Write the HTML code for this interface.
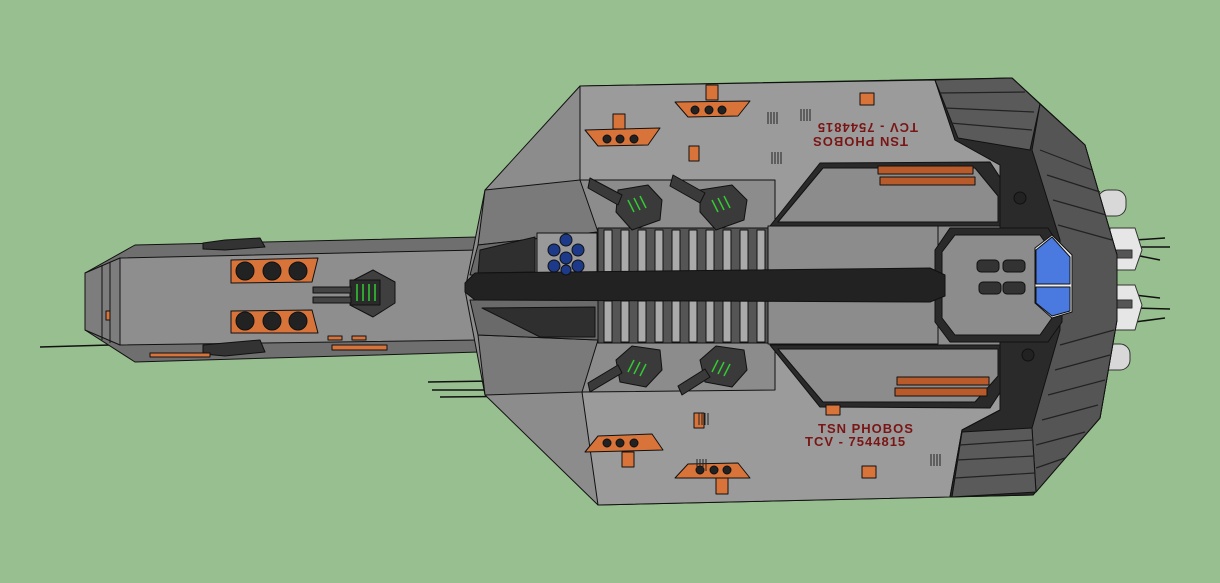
<!DOCTYPE html>
<html><head><style>
html,body{margin:0;padding:0;background:#98bf8f;}
svg{display:block;}
text{font-family:"Liberation Sans",sans-serif;}
</style></head><body>
<svg width="1220" height="583" viewBox="0 0 1220 583" xmlns="http://www.w3.org/2000/svg" stroke-linejoin="round">
<rect width="1220" height="583" fill="#98bf8f"/>
<g stroke="#111" stroke-width="1.5">
<line x1="40" y1="347" x2="110" y2="345"/>
<line x1="428" y1="382" x2="560" y2="380"/>
<line x1="432" y1="390" x2="555" y2="390"/>
<line x1="440" y1="397" x2="555" y2="396"/>
<line x1="1135" y1="240" x2="1165" y2="238"/>
<line x1="1135" y1="247" x2="1170" y2="247"/>
<line x1="1135" y1="255" x2="1160" y2="260"/>
<line x1="1135" y1="295" x2="1160" y2="298"/>
<line x1="1135" y1="308" x2="1170" y2="309"/>
<line x1="1135" y1="322" x2="1165" y2="318"/>
</g>
<g stroke="#333" stroke-width="1">
<rect x="1098" y="190" width="28" height="26" rx="10" fill="#d8d8d8"/>
<rect x="1098" y="344" width="32" height="26" rx="10" fill="#d8d8d8"/>
<path d="M1110 228 L1135 228 L1142 250 L1135 270 L1110 270 Z" fill="#e6e6e6"/>
<path d="M1110 285 L1135 285 L1142 305 L1135 330 L1110 330 Z" fill="#e6e6e6"/>
<rect x="1112" y="250" width="20" height="8" fill="#555"/>
<rect x="1112" y="300" width="20" height="8" fill="#555"/>
</g>
<g stroke="#111" stroke-width="1">
<path d="M135 245 L478 237 L480 352 L135 362 L85 330 L85 273 Z" fill="#6f6f6f"/>
<path d="M120 258 L478 250 L478 340 L120 345 Z" fill="#8e8e8e"/>
<path d="M85 273 L120 258 L120 345 L85 330 Z" fill="#7d7d7d"/>
<line x1="102" y1="265" x2="102" y2="340"/>
<line x1="110" y1="262" x2="110" y2="343"/>
<rect x="106" y="311" width="4" height="9" fill="#d8743a"/>
<path d="M231 260 L318 258 L312 282 L231 283 Z" fill="#d8743a"/>
<path d="M231 311 L312 310 L318 333 L231 333 Z" fill="#d8743a"/>
<g fill="#222">
<circle cx="245" cy="271" r="9"/><circle cx="272" cy="271" r="9"/><circle cx="298" cy="271" r="9"/>
<circle cx="245" cy="321" r="9"/><circle cx="272" cy="321" r="9"/><circle cx="298" cy="321" r="9"/>
</g>
<path d="M350 282 L373 270 L395 282 L395 303 L373 317 L350 305 Z" fill="#3f3f3f"/>
<rect x="350" y="280" width="30" height="25" fill="#2a2a2a"/>
<g stroke="#3c3" stroke-width="1.5"><line x1="357" y1="284" x2="357" y2="301"/><line x1="363" y1="284" x2="363" y2="301"/><line x1="369" y1="284" x2="369" y2="301"/><line x1="375" y1="284" x2="375" y2="301"/></g>
<rect x="313" y="287" width="38" height="6" fill="#444"/>
<rect x="313" y="297" width="38" height="6" fill="#444"/>
<path d="M203 243 L225 240 L260 238 L265 247 L225 250 L203 249 Z" fill="#333"/>
<path d="M203 345 L225 343 L260 340 L265 352 L225 356 L203 354 Z" fill="#333"/>
<rect x="150" y="353" width="60" height="4" fill="#d8743a"/>
<rect x="328" y="336" width="14" height="4" fill="#d8743a"/>
<rect x="352" y="336" width="14" height="4" fill="#d8743a"/>
<rect x="332" y="345" width="55" height="5" fill="#d8743a"/>
</g>
<g stroke="#111" stroke-width="1">
<path d="M580 86 L1012 78 L1085 145 L1117 255 L1117 320 L1100 418 L1033 495 L598 505 L485 395 L465 290 L485 190 Z" fill="#8c8c8c"/>
<path d="M485 190 L580 180 L598 232 L478 245 Z" fill="#7a7a7a"/>
<path d="M478 335 L598 340 L582 392 L485 395 Z" fill="#7a7a7a"/>
<path d="M478 245 L598 232 L598 272 L470 275 Z" fill="#6a6a6a"/>
<path d="M470 300 L598 300 L598 340 L478 335 Z" fill="#6a6a6a"/>
<path d="M480 250 L535 237 L535 272 L478 273 Z" fill="#2f2f2f"/>
<path d="M482 308 L595 307 L595 337 L540 337 Z" fill="#2f2f2f"/>
<rect x="537" y="233" width="60" height="40" fill="#999"/>
<path d="M580 86 L935 80 L955 140 L1000 165 L1000 225 L775 225 L775 180 L580 180 Z" fill="#9b9b9b"/>
<path d="M598 505 L950 497 L962 430 L1000 410 L1000 345 L775 345 L775 390 L582 392 Z" fill="#9b9b9b"/>
<rect x="598" y="228" width="170" height="45" fill="#555"/>
<rect x="598" y="300" width="170" height="43" fill="#555"/>
<g fill="#aaa">
<rect x="604" y="230" width="8" height="42"/><rect x="621" y="230" width="8" height="42"/><rect x="638" y="230" width="8" height="42"/><rect x="655" y="230" width="8" height="42"/><rect x="672" y="230" width="8" height="42"/><rect x="689" y="230" width="8" height="42"/><rect x="706" y="230" width="8" height="42"/><rect x="723" y="230" width="8" height="42"/><rect x="740" y="230" width="8" height="42"/><rect x="757" y="230" width="8" height="42"/>
<rect x="604" y="301" width="8" height="41"/><rect x="621" y="301" width="8" height="41"/><rect x="638" y="301" width="8" height="41"/><rect x="655" y="301" width="8" height="41"/><rect x="672" y="301" width="8" height="41"/><rect x="689" y="301" width="8" height="41"/><rect x="706" y="301" width="8" height="41"/><rect x="723" y="301" width="8" height="41"/><rect x="740" y="301" width="8" height="41"/><rect x="757" y="301" width="8" height="41"/>
</g>
<rect x="768" y="226" width="170" height="118" fill="#8c8c8c"/>
<path d="M770 226 L820 163 L990 162 L1005 185 L1005 226 Z" fill="#2a2a2a"/>
<path d="M778 222 L823 168 L975 168 L998 196 L998 222 Z" fill="#8c8c8c"/>
<path d="M770 345 L1005 345 L1005 385 L990 408 L820 407 Z" fill="#2a2a2a"/>
<path d="M778 349 L998 349 L998 376 L975 402 L823 402 Z" fill="#8c8c8c"/>
<!-- right cap -->
<path d="M935 80 L1012 78 L1085 145 L1117 255 L1117 320 L1100 418 L1033 495 L950 497 L962 430 L1000 410 L1000 165 L955 140 Z" fill="#2a2a2a"/>
<path d="M935 80 L1012 78 L1040 104 L1030 150 L958 138 Z" fill="#5a5a5a"/>
<path d="M1040 104 L1085 145 L1117 255 L1117 320 L1100 418 L1036 492 L1032 428 L1060 330 L1060 240 L1032 150 Z" fill="#555"/>
<path d="M962 432 L1032 428 L1036 492 L952 497 Z" fill="#5a5a5a"/>
<g stroke="#222" stroke-width="1.2">
<line x1="940" y1="93" x2="1025" y2="92"/><line x1="945" y1="108" x2="1034" y2="112"/><line x1="950" y1="123" x2="1032" y2="130"/>
<line x1="960" y1="445" x2="1033" y2="440"/><line x1="957" y1="460" x2="1034" y2="456"/><line x1="955" y1="478" x2="1035" y2="473"/>
<line x1="1040" y1="150" x2="1092" y2="170"/><line x1="1047" y1="175" x2="1100" y2="192"/><line x1="1053" y1="200" x2="1106" y2="215"/><line x1="1058" y1="225" x2="1112" y2="240"/>
<line x1="1060" y1="345" x2="1114" y2="330"/><line x1="1055" y1="370" x2="1110" y2="355"/><line x1="1048" y1="395" x2="1105" y2="380"/><line x1="1042" y1="420" x2="1098" y2="405"/><line x1="1036" y1="445" x2="1085" y2="432"/><line x1="1036" y1="468" x2="1065" y2="458"/>
</g>
<path d="M950 228 L1048 228 L1062 250 L1062 322 L1048 342 L950 342 L935 322 L935 250 Z" fill="#2a2a2a"/>
<path d="M955 235 L1040 235 L1052 252 L1052 318 L1040 335 L955 335 L942 318 L942 252 Z" fill="#8c8c8c"/>
<path d="M1052 235 L1072 255 L1072 312 L1052 318 L1035 303 L1035 248 Z" fill="#eee"/>
<path d="M1052 237 L1070 257 L1070 284 L1036 284 L1036 250 Z" fill="#4a7ae0"/>
<path d="M1036 287 L1070 287 L1070 311 L1052 316 L1036 303 Z" fill="#4a7ae0"/>
<g fill="#333"><rect x="977" y="260" width="22" height="12" rx="4"/><rect x="1003" y="260" width="22" height="12" rx="4"/><rect x="979" y="282" width="22" height="12" rx="4"/><rect x="1003" y="282" width="22" height="12" rx="4"/></g>
<path d="M465 283 L475 273 L930 268 L945 275 L945 296 L930 302 L475 300 L465 292 Z" fill="#222"/>
<g fill="#1d3a8a"><circle cx="566" cy="240" r="6"/><circle cx="554" cy="250" r="6"/><circle cx="578" cy="250" r="6"/><circle cx="566" cy="258" r="6"/><circle cx="554" cy="266" r="6"/><circle cx="578" cy="266" r="6"/><circle cx="566" cy="270" r="5"/></g>
<g fill="#3a3a3a">
<path d="M618 190 L648 185 L662 200 L660 220 L632 230 L616 212 Z"/>
<path d="M700 190 L732 185 L747 200 L744 220 L716 230 L700 212 Z"/>
<path d="M616 360 L632 346 L660 350 L662 370 L646 387 L620 382 Z"/>
<path d="M700 360 L716 346 L744 350 L747 370 L732 387 L705 382 Z"/>
<path d="M590 178 L622 195 L618 205 L588 188 Z"/><path d="M673 175 L705 193 L700 203 L670 186 Z"/>
<path d="M590 392 L622 373 L618 365 L588 383 Z"/><path d="M682 395 L710 377 L705 369 L678 386 Z"/>
</g>
<g stroke="#3c3" stroke-width="1.5">
<line x1="628" y1="200" x2="634" y2="212"/><line x1="634" y1="198" x2="640" y2="210"/><line x1="640" y1="196" x2="646" y2="208"/>
<line x1="712" y1="200" x2="718" y2="212"/><line x1="718" y1="198" x2="724" y2="210"/><line x1="724" y1="196" x2="730" y2="208"/>
<line x1="628" y1="372" x2="634" y2="360"/><line x1="634" y1="374" x2="640" y2="362"/><line x1="640" y1="376" x2="646" y2="364"/>
<line x1="712" y1="372" x2="718" y2="360"/><line x1="718" y1="374" x2="724" y2="362"/><line x1="724" y1="376" x2="730" y2="364"/>
</g>
<g fill="#b85a2a"><rect x="878" y="166" width="95" height="8"/><rect x="880" y="177" width="95" height="8"/><rect x="897" y="377" width="92" height="8"/><rect x="895" y="388" width="92" height="8"/></g>
<g fill="#d8743a">
<path d="M585 130 L660 128 L648 145 L598 146 Z"/><path d="M675 102 L750 101 L738 116 L688 117 Z"/>
<path d="M598 436 L652 434 L663 450 L585 452 Z"/><path d="M688 464 L738 463 L750 478 L675 478 Z"/>
<rect x="613" y="114" width="12" height="15"/><rect x="706" y="85" width="12" height="15"/>
<rect x="622" y="452" width="12" height="15"/><rect x="716" y="478" width="12" height="16"/>
<rect x="689" y="146" width="10" height="15"/><rect x="694" y="413" width="10" height="15"/>
<rect x="860" y="93" width="14" height="12"/><rect x="826" y="405" width="14" height="10"/>
<rect x="862" y="466" width="14" height="12"/>
</g>
<g fill="#222">
<circle cx="607" cy="139" r="4"/><circle cx="620" cy="139" r="4"/><circle cx="634" cy="139" r="4"/>
<circle cx="695" cy="110" r="4"/><circle cx="709" cy="110" r="4"/><circle cx="722" cy="110" r="4"/>
<circle cx="607" cy="443" r="4"/><circle cx="620" cy="443" r="4"/><circle cx="634" cy="443" r="4"/>
<circle cx="700" cy="470" r="4"/><circle cx="714" cy="470" r="4"/><circle cx="727" cy="470" r="4"/>
<circle cx="1020" cy="198" r="6"/><circle cx="1028" cy="355" r="6"/>
</g>
</g>
<g stroke="#222" stroke-width="1">
<path d="M768 112v12M771 112v12M774 112v12M777 112v12M772 152v12M775 152v12M778 152v12M781 152v12M801 109v12M804 109v12M807 109v12M810 109v12M699 413v12M702 413v12M705 413v12M708 413v12M697 459v12M700 459v12M703 459v12M706 459v12M931 454v12M934 454v12M937 454v12M940 454v12"/>
</g>
<g fill="#7a1515" font-size="13" font-weight="bold" letter-spacing="1">
<text x="818" y="433">TSN PHOBOS</text>
<text x="805" y="446">TCV - 7544815</text>
<text transform="rotate(180 853 128)" x="788" y="133">TCV - 7544815</text>
<text transform="rotate(180 863 142)" x="818" y="147">TSN PHOBOS</text>
</g>
</svg>
</body></html>
